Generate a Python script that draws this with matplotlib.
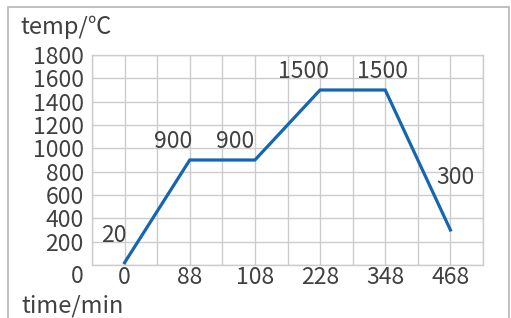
import matplotlib
matplotlib.use("Agg")
import matplotlib.pyplot as plt
from matplotlib.patches import Rectangle
from matplotlib.transforms import ScaledTranslation

plt.rcParams['font.family'] = ['Noto Sans CJK SC', 'DejaVu Sans']

time_labels = ["0", "88", "108", "228", "348", "468"]
temps = [20, 900, 900, 1500, 1500, 300]
point_labels = ["20", "900", "900", "1500", "1500", "300"]
y_ticks = [0, 200, 400, 600, 800, 1000, 1200, 1400, 1600, 1800]

W, H = 511, 318
FS = 16.5
fig = plt.figure(figsize=(W / 100, H / 100), dpi=100)
ax = fig.add_axes([92 / W, 1 - 265 / H, 391 / W, 210 / H])

text_color = "#404040"
grid_color = "#cccccc"
line_color = "#1566b0"

x = list(range(len(time_labels)))
ax.plot(x, temps, color=line_color, lw=2.3, solid_joinstyle='miter', zorder=3)

ax.set_xlim(-0.5, len(time_labels) - 0.5)
ax.set_ylim(0, 1800)
ax.set_xticks(x)
ax.set_xticklabels(time_labels)
ax.set_xticks([i + 0.5 for i in range(-1, len(time_labels))], minor=True)
ax.set_yticks(y_ticks)
ax.set_yticklabels([str(v) for v in y_ticks])
ax.grid(True, which='both', axis='x', color=grid_color, lw=1.0)
ax.grid(True, which='major', axis='y', color=grid_color, lw=1.0)
ax.tick_params(which='both', length=0, labelsize=FS, colors=text_color)
ax.tick_params(axis='y', pad=6)
ax.tick_params(axis='x', pad=1)
for s in ax.spines.values():
    s.set_color(grid_color)
    s.set_linewidth(1.0)

# shift the "0" y label slightly down as in reference
lbl0 = ax.get_yticklabels()[0]
lbl0.set_transform(lbl0.get_transform() + ScaledTranslation(0, -0.09, fig.dpi_scale_trans))

offsets = [(-11, 27), (-17, 18), (-20, 18), (-17, 18), (-3, 18), (5, 53)]
for xi, yi, lab, off in zip(x, temps, point_labels, offsets):
    ax.annotate(lab, (xi, yi), xytext=off, textcoords='offset pixels',
                ha='center', va='center', fontsize=FS, color=text_color)

fig.text(20 / W, 1 - 27 / H, "temp/℃", ha='left', va='center', fontsize=FS + 0.5, color=text_color)
fig.text(21 / W, 1 - 306 / H, "time/min", ha='left', va='center', fontsize=FS + 0.5, color=text_color)

fig.patches.append(Rectangle((8 / W, -0.05), 501 / W, 1 - 7 / H + 0.05,
                             transform=fig.transFigure, fill=False,
                             edgecolor="#b5b5b5", lw=1.2))

fig.savefig("out.png", dpi=100)
